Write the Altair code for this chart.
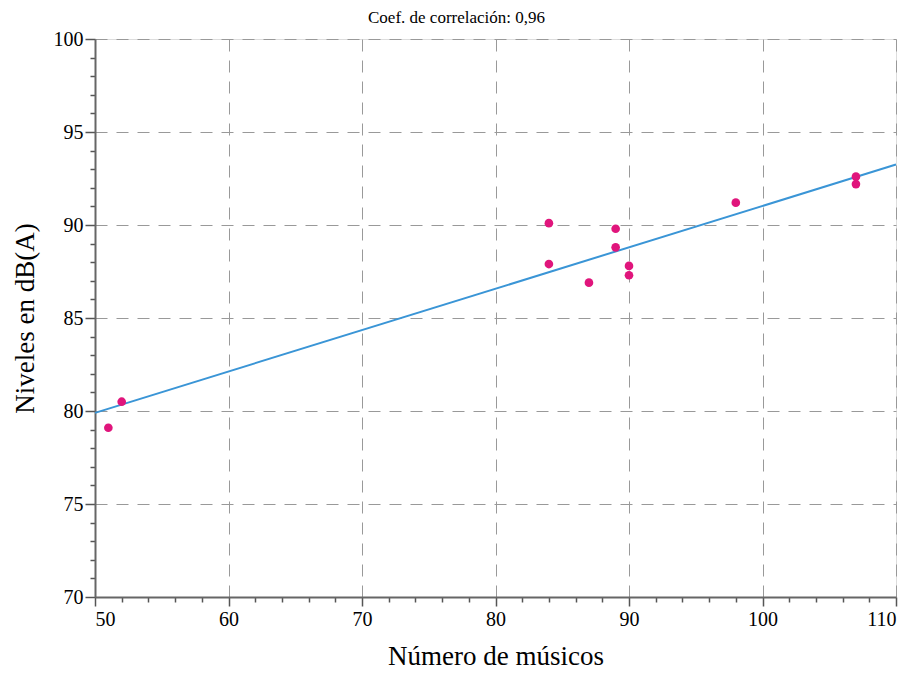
import altair as alt
import pandas as pd

musicos = [51, 52, 84, 84, 87, 89, 89, 90, 90, 98, 107, 107]
niveles = [79.1, 80.5, 90.1, 87.9, 86.9, 89.8, 88.8, 87.8, 87.3, 91.2, 92.6, 92.2]

fit_x = [50, 110]
fit_y = [79.9, 93.25]

x_ticks = list(range(50, 111, 2))
y_ticks = list(range(70, 101, 1))

pts = pd.DataFrame({"x": musicos, "y": niveles})
fit = pd.DataFrame({"x": fit_x, "y": fit_y})

FONT = "Liberation Serif"

xscale = alt.Scale(domain=[50, 110], nice=False, zero=False)
yscale = alt.Scale(domain=[70, 100], nice=False, zero=False)

xaxis = alt.Axis(
    title="Número de músicos",
    values=x_ticks,
    tickCount=200,
    format="d",
    labelExpr="datum.value % 10 === 0 ? datum.label : ''",
    labelOverlap=False,
    labelFont=FONT, labelFontSize=20, labelColor="black", labelPadding=3,
    titleFont=FONT, titleFontSize=27, titleFontWeight="normal", titleColor="black",
    titlePadding=14,
    tickSize=alt.condition("datum.value % 10 === 0", alt.value(9), alt.value(5)),
    tickColor="#555", tickWidth=1.5,
    domainColor="#666", domainWidth=2,
    grid=True,
    gridDash=[12, 9], gridColor="#999", gridWidth=1,
    gridOpacity=alt.condition("datum.value % 10 === 0", alt.value(1), alt.value(0)),
)
yaxis = alt.Axis(
    title="Niveles en dB(A)",
    values=y_ticks,
    tickCount=200,
    format="d",
    labelExpr="datum.value % 5 === 0 ? datum.label : ''",
    labelOverlap=False,
    labelFont=FONT, labelFontSize=20, labelColor="black", labelPadding=2,
    titleFont=FONT, titleFontSize=27, titleFontWeight="normal", titleColor="black",
    titlePadding=14,
    tickSize=alt.condition("datum.value % 5 === 0", alt.value(10), alt.value(5)),
    tickColor="#555", tickWidth=1.5,
    domainColor="#666", domainWidth=2,
    grid=True,
    gridDash=[12, 9], gridColor="#999", gridWidth=1,
    gridOpacity=alt.condition("datum.value % 5 === 0", alt.value(1), alt.value(0)),
)

line = alt.Chart(fit).mark_line(color="#3a95d6", strokeWidth=2).encode(
    x=alt.X("x:Q", scale=xscale, axis=xaxis),
    y=alt.Y("y:Q", scale=yscale, axis=yaxis),
)
points = alt.Chart(pts).mark_circle(color="#e0157c", opacity=1, size=75).encode(
    x=alt.X("x:Q", scale=xscale),
    y=alt.Y("y:Q", scale=yscale),
)

chart = (line + points).properties(
    width=801, height=558,
    title=alt.TitleParams(
        "Coef. de correlación:  0,96",
        font=FONT, fontSize=17, fontWeight="normal", color="black",
        dx=-39, offset=2, anchor="middle",
    ),
    autosize=alt.AutoSizeParams(type="none"),
    padding={"left": 87, "top": 31, "right": 5, "bottom": 74},
).configure_view(stroke="#666", strokeWidth=2).configure(background="white")

chart.save("out.html", embed_options={"renderer": "svg", "actions": False})
